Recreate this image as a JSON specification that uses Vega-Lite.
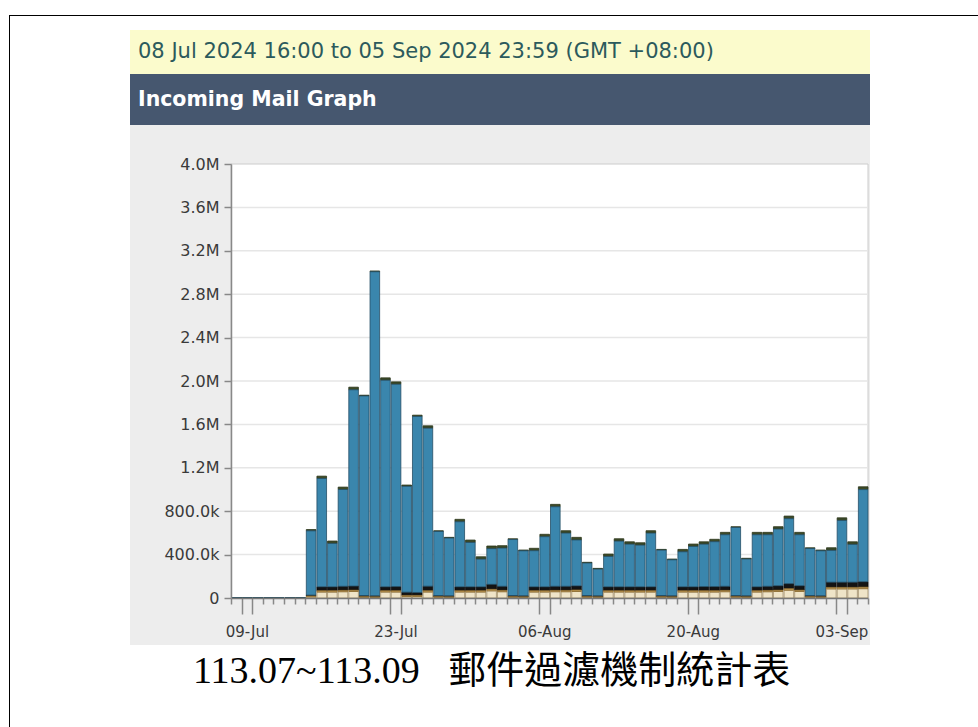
{
  "$schema": "https://vega.github.io/schema/vega-lite/v6.json",
  "background": "white",
  "padding": {"left": 9, "top": 15, "right": 0, "bottom": 0},
  "config": {"view": {"stroke": null}, "concat": {"spacing": 0}},
  "spacing": 0,
  "vconcat": [
    {"width": 969, "height": 1, "data": {"values": []}, "mark": "point", "view": {"fill": "#000000", "stroke": null}},
    {
      "spacing": 120,
      "hconcat": [
        {"width": 1, "height": 711, "data": {"values": []}, "mark": "point", "view": {"fill": "#000000", "stroke": null}},
        {
          "bounds": "flush",
          "spacing": 0,
          "title": {"text": "113.07~113.09\u00a0\u00a0\u00a0郵件過濾機制統計表", "orient": "bottom", "anchor": "middle", "font": "Liberation Serif, Noto Sans CJK TC", "fontSize": 38, "fontWeight": "normal", "color": "#000000", "offset": 8, "dx": -10},
          "vconcat": [
            {"width": 740, "height": 14, "data": {"values": []}, "mark": "point"},
            {
              "width": 740, "height": 44,
              "view": {"fill": "#fbfbcc", "stroke": null},
              "data": {"values": [{"label": "08 Jul 2024 16:00 to 05 Sep 2024 23:59 (GMT +08:00)"}]},
              "mark": {"type": "text", "align": "left", "baseline": "middle", "dx": 8, "font": "DejaVu Sans", "fontSize": 21, "color": "#2c5a5c"},
              "encoding": {
                "x": {"datum": 0, "type": "quantitative", "scale": {"domain": [0, 1]}, "axis": null},
                "text": {"field": "label"}
              }
            },
            {
              "width": 740, "height": 51,
              "view": {"fill": "#46576f", "stroke": null},
              "data": {"values": [{"label": "Incoming Mail Graph"}]},
              "mark": {"type": "text", "align": "left", "baseline": "middle", "dx": 8, "font": "DejaVu Sans", "fontSize": 20.5, "fontWeight": "bold", "color": "#ffffff"},
              "encoding": {
                "x": {"datum": 0, "type": "quantitative", "scale": {"domain": [0, 1]}, "axis": null},
                "text": {"field": "label"}
              }
            },
            {"width": 740, "height": 39, "data": {"values": []}, "mark": "point"},
            {
              "bounds": "flush",
              "spacing": 0,
              "hconcat": [
                {"width": 101, "height": 434, "data": {"values": []}, "mark": "point"},
                {
                  "width": 637, "height": 434,
                  "data": {"values": [
                    {"date": "2024-07-08", "clean": 0, "invalid": 0, "spam": 0, "content": 0, "reputation": 3000},
                    {"date": "2024-07-09", "clean": 0, "invalid": 0, "spam": 0, "content": 0, "reputation": 3000},
                    {"date": "2024-07-10", "clean": 0, "invalid": 0, "spam": 0, "content": 0, "reputation": 3000},
                    {"date": "2024-07-11", "clean": 0, "invalid": 0, "spam": 0, "content": 0, "reputation": 3000},
                    {"date": "2024-07-12", "clean": 0, "invalid": 0, "spam": 0, "content": 0, "reputation": 3000},
                    {"date": "2024-07-13", "clean": 0, "invalid": 0, "spam": 0, "content": 0, "reputation": 3000},
                    {"date": "2024-07-14", "clean": 0, "invalid": 0, "spam": 0, "content": 0, "reputation": 3000},
                    {"date": "2024-07-15", "clean": 10000, "invalid": 8000, "spam": 12000, "content": 9000, "reputation": 592000},
                    {"date": "2024-07-16", "clean": 55000, "invalid": 36000, "spam": 22000, "content": 12000, "reputation": 998000},
                    {"date": "2024-07-17", "clean": 55000, "invalid": 36000, "spam": 22000, "content": 12000, "reputation": 400000},
                    {"date": "2024-07-18", "clean": 58000, "invalid": 38000, "spam": 22000, "content": 12000, "reputation": 892000},
                    {"date": "2024-07-19", "clean": 60000, "invalid": 38000, "spam": 24000, "content": 12000, "reputation": 1809000},
                    {"date": "2024-07-20", "clean": 7000, "invalid": 11000, "spam": 7000, "content": 5000, "reputation": 1839000},
                    {"date": "2024-07-21", "clean": 6000, "invalid": 10000, "spam": 7000, "content": 5000, "reputation": 2986000},
                    {"date": "2024-07-22", "clean": 55000, "invalid": 36000, "spam": 22000, "content": 12000, "reputation": 1904000},
                    {"date": "2024-07-23", "clean": 55000, "invalid": 38000, "spam": 22000, "content": 12000, "reputation": 1865000},
                    {"date": "2024-07-24", "clean": 14000, "invalid": 30000, "spam": 12000, "content": 10000, "reputation": 975000},
                    {"date": "2024-07-25", "clean": 14000, "invalid": 27000, "spam": 12000, "content": 10000, "reputation": 1622000},
                    {"date": "2024-07-26", "clean": 55000, "invalid": 42000, "spam": 22000, "content": 12000, "reputation": 1456000},
                    {"date": "2024-07-27", "clean": 7000, "invalid": 11000, "spam": 7000, "content": 5000, "reputation": 590000},
                    {"date": "2024-07-28", "clean": 6000, "invalid": 10000, "spam": 7000, "content": 5000, "reputation": 531000},
                    {"date": "2024-07-29", "clean": 55000, "invalid": 36000, "spam": 22000, "content": 12000, "reputation": 600000},
                    {"date": "2024-07-30", "clean": 55000, "invalid": 36000, "spam": 22000, "content": 12000, "reputation": 409000},
                    {"date": "2024-07-31", "clean": 55000, "invalid": 36000, "spam": 22000, "content": 12000, "reputation": 255000},
                    {"date": "2024-08-01", "clean": 66000, "invalid": 46000, "spam": 24000, "content": 14000, "reputation": 329000},
                    {"date": "2024-08-02", "clean": 58000, "invalid": 38000, "spam": 22000, "content": 12000, "reputation": 352000},
                    {"date": "2024-08-03", "clean": 7000, "invalid": 11000, "spam": 7000, "content": 5000, "reputation": 516000},
                    {"date": "2024-08-04", "clean": 6000, "invalid": 10000, "spam": 7000, "content": 5000, "reputation": 414000},
                    {"date": "2024-08-05", "clean": 55000, "invalid": 36000, "spam": 22000, "content": 12000, "reputation": 333000},
                    {"date": "2024-08-06", "clean": 55000, "invalid": 36000, "spam": 22000, "content": 12000, "reputation": 462000},
                    {"date": "2024-08-07", "clean": 58000, "invalid": 38000, "spam": 22000, "content": 12000, "reputation": 733000},
                    {"date": "2024-08-08", "clean": 58000, "invalid": 38000, "spam": 22000, "content": 12000, "reputation": 490000},
                    {"date": "2024-08-09", "clean": 60000, "invalid": 38000, "spam": 24000, "content": 14000, "reputation": 423000},
                    {"date": "2024-08-10", "clean": 7000, "invalid": 11000, "spam": 7000, "content": 5000, "reputation": 299000},
                    {"date": "2024-08-11", "clean": 6000, "invalid": 10000, "spam": 7000, "content": 5000, "reputation": 245000},
                    {"date": "2024-08-12", "clean": 55000, "invalid": 36000, "spam": 22000, "content": 12000, "reputation": 280000},
                    {"date": "2024-08-13", "clean": 55000, "invalid": 36000, "spam": 22000, "content": 12000, "reputation": 421000},
                    {"date": "2024-08-14", "clean": 55000, "invalid": 36000, "spam": 22000, "content": 12000, "reputation": 393000},
                    {"date": "2024-08-15", "clean": 55000, "invalid": 36000, "spam": 22000, "content": 12000, "reputation": 384000},
                    {"date": "2024-08-16", "clean": 55000, "invalid": 36000, "spam": 22000, "content": 12000, "reputation": 495000},
                    {"date": "2024-08-17", "clean": 7000, "invalid": 11000, "spam": 7000, "content": 5000, "reputation": 418000},
                    {"date": "2024-08-18", "clean": 6000, "invalid": 10000, "spam": 7000, "content": 5000, "reputation": 331000},
                    {"date": "2024-08-19", "clean": 55000, "invalid": 36000, "spam": 22000, "content": 12000, "reputation": 323000},
                    {"date": "2024-08-20", "clean": 55000, "invalid": 36000, "spam": 22000, "content": 12000, "reputation": 372000},
                    {"date": "2024-08-21", "clean": 55000, "invalid": 38000, "spam": 22000, "content": 12000, "reputation": 391000},
                    {"date": "2024-08-22", "clean": 55000, "invalid": 38000, "spam": 22000, "content": 12000, "reputation": 414000},
                    {"date": "2024-08-23", "clean": 58000, "invalid": 38000, "spam": 22000, "content": 12000, "reputation": 475000},
                    {"date": "2024-08-24", "clean": 7000, "invalid": 11000, "spam": 7000, "content": 5000, "reputation": 627000},
                    {"date": "2024-08-25", "clean": 6000, "invalid": 10000, "spam": 7000, "content": 5000, "reputation": 338000},
                    {"date": "2024-08-26", "clean": 55000, "invalid": 36000, "spam": 22000, "content": 12000, "reputation": 480000},
                    {"date": "2024-08-27", "clean": 58000, "invalid": 38000, "spam": 22000, "content": 12000, "reputation": 475000},
                    {"date": "2024-08-28", "clean": 60000, "invalid": 41000, "spam": 22000, "content": 12000, "reputation": 522000},
                    {"date": "2024-08-29", "clean": 72000, "invalid": 46000, "spam": 24000, "content": 14000, "reputation": 599000},
                    {"date": "2024-08-30", "clean": 60000, "invalid": 41000, "spam": 22000, "content": 12000, "reputation": 470000},
                    {"date": "2024-08-31", "clean": 7000, "invalid": 11000, "spam": 7000, "content": 5000, "reputation": 433000},
                    {"date": "2024-09-01", "clean": 6000, "invalid": 10000, "spam": 7000, "content": 5000, "reputation": 414000},
                    {"date": "2024-09-02", "clean": 84000, "invalid": 48000, "spam": 24000, "content": 14000, "reputation": 293000},
                    {"date": "2024-09-03", "clean": 84000, "invalid": 48000, "spam": 24000, "content": 14000, "reputation": 569000},
                    {"date": "2024-09-04", "clean": 84000, "invalid": 48000, "spam": 24000, "content": 14000, "reputation": 348000},
                    {"date": "2024-09-05", "clean": 86000, "invalid": 50000, "spam": 26000, "content": 14000, "reputation": 849000}
                  ]},
                  "layer": [
                    {
                      "data": {"values": [{}]},
                      "mark": {"type": "rect", "fill": "#ededed", "clip": false},
                      "encoding": {
                        "x": {"datum": {"year": 2024, "month": 6, "date": 28, "hours": 11, "minutes": 41, "utc": true}, "type": "temporal"},
                        "x2": {"datum": {"year": 2024, "month": 9, "date": 6, "hours": 4, "minutes": 31, "utc": true}},
                        "y": {"datum": -433080, "type": "quantitative"},
                        "y2": {"datum": 4359370}
                      }
                    },
                    {
                      "data": {"values": [{}]},
                      "mark": {"type": "rect", "fill": "#ffffff", "stroke": "#cccccc", "strokeWidth": 1},
                      "encoding": {
                        "x": {"datum": {"year": 2024, "month": 7, "date": 8, "utc": true}, "type": "temporal"},
                        "x2": {"datum": {"year": 2024, "month": 9, "date": 6, "utc": true}},
                        "y": {"datum": 0, "type": "quantitative"},
                        "y2": {"datum": 4000000}
                      }
                    },
                    {
                      "data": {"values": [{"tick": 400000}, {"tick": 800000}, {"tick": 1200000}, {"tick": 1600000}, {"tick": 2000000}, {"tick": 2400000}, {"tick": 2800000}, {"tick": 3200000}, {"tick": 3600000}]},
                      "mark": {"type": "rule", "color": "#e6e6e6", "strokeWidth": 1.5},
                      "encoding": {"y": {"field": "tick", "type": "quantitative"}}
                    },
                    {
                      "transform": [{"fold": ["clean", "invalid", "spam", "content", "reputation"], "as": ["series", "value"]}],
                      "mark": {"type": "bar", "timeUnitBandSize": 0.8, "strokeWidth": 0.8},
                      "encoding": {
                        "x": {
                          "field": "date", "timeUnit": "utcyearmonthdate", "type": "temporal",
                          "scale": {"type": "utc", "domain": [{"year": 2024, "month": 7, "date": 8, "utc": true}, {"year": 2024, "month": 9, "date": 6, "utc": true}], "nice": false},
                          "axis": {
                            "orient": "bottom", "zindex": 1, "title": null,
                            "tickCount": {"interval": "day", "step": 1},
                            "labelExpr": "(round((datum.value - utc(2024,6,8)) / 864e5) % 14 == 1) ? utcFormat(datum.value, '%d-%b') : ''",
                            "tickSize": {"condition": {"test": "(round((datum.value - utc(2024,6,8)) / 864e5) % 14 == 1) || (round((datum.value - utc(2024,6,8)) / 864e5) % 14 == 2)", "value": 16}, "value": 6},
                            "labelOffset": 5.3, "labelPadding": 10, "labelAlign": "center",
                            "labelFlush": false, "labelOverlap": false, "labelBound": false,
                            "labelFont": "DejaVu Sans", "labelFontSize": 15, "labelColor": "#3a3a3a",
                            "domain": true, "domainColor": "#777777", "domainWidth": 1.5,
                            "tickColor": "#888888", "tickWidth": 1.5, "grid": false
                          }
                        },
                        "y": {
                          "field": "value", "type": "quantitative", "stack": "zero",
                          "scale": {"domain": [0, 4000000], "nice": false},
                          "axis": {
                            "orient": "left", "zindex": 1, "title": null, "grid": false,
                            "values": [0, 400000, 800000, 1200000, 1600000, 2000000, 2400000, 2800000, 3200000, 3600000, 4000000],
                            "labelExpr": "datum.value == 0 ? '0' : (datum.value < 1000000 ? format(datum.value / 1000, '.1f') + 'k' : format(datum.value / 1000000, '.1f') + 'M')",
                            "labelFont": "DejaVu Sans", "labelFontSize": 16, "labelColor": "#3a3a3a", "labelPadding": 5,
                            "tickSize": 7, "tickColor": "#888888", "tickWidth": 1.5,
                            "domain": true, "domainColor": "#888888", "domainWidth": 1.5
                          }
                        },
                        "color": {
                          "field": "series", "type": "nominal", "legend": null,
                          "scale": {"domain": ["clean", "invalid", "spam", "content", "reputation"], "range": ["#efe4c8", "#141414", "#3c4a28", "#c9a25a", "#3a86ad"]}
                        },
                        "stroke": {
                          "field": "series", "type": "nominal", "legend": null,
                          "scale": {"domain": ["clean", "invalid", "spam", "content", "reputation"], "range": ["#a08c64", "#000000", "#2a3418", "#8a6a30", "#244e66"]}
                        },
                        "order": {"field": "series", "type": "nominal", "sort": "ascending"}
                      }
                    }
                  ]
                }
              ]
            }
          ]
        }
      ]
    }
  ]
}
